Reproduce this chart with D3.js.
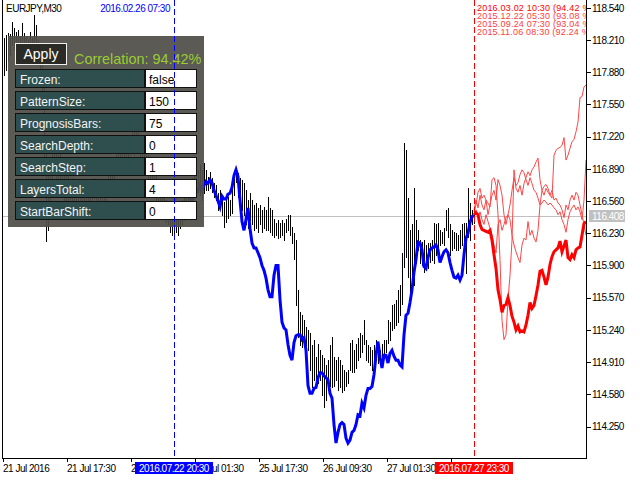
<!DOCTYPE html>
<html><head><meta charset="utf-8">
<script src="https://cdn.jsdelivr.net/npm/d3@7"></script>
<style>
html,body{margin:0;padding:0;background:#fff;}
svg{display:block;font-family:"Liberation Sans",Arial,sans-serif;}
</style></head><body>
<svg id="c" width="640" height="480"></svg>
<script>
// ---------------- DATA ----------------
const symbolLabel = "EURJPY,M30";
const patternDateLabel = "2016.02.26 07:30";
const patternStartIdx = 86;   // bar index where the matched pattern begins
const lastBarIdx = 236;       // current bar (forecast starts here)
const patternStartTime = "2016.07.22 20:30";
const lastBarTime = "2016.07.27 23:30";
const currentPrice = 116.408;

const barHigh = [
118.21,118.23,118.26,118.28,118.27,118.39,118.33,118.29,118.31,118.25,
118.38,118.28,118.25,118.21,118.29,118.23,118.47,118.36,118.21,118.11,
118.00,117.75,117.19,116.83,116.98,117.08,117.13,117.08,117.03,117.08,
116.98,116.93,116.88,116.83,116.78,116.80,116.72,116.67,116.72,116.78,
116.74,116.67,116.62,116.67,116.72,116.78,116.80,116.72,116.67,116.62,
116.67,116.72,116.78,116.83,116.88,116.93,116.98,117.03,117.08,117.13,
117.08,117.13,117.19,117.21,117.24,117.29,117.27,117.31,117.29,117.24,
117.19,117.13,117.08,117.03,116.98,116.93,116.88,116.83,116.78,116.72,
116.67,116.62,116.57,116.52,116.47,116.45,116.42,116.47,116.49,116.52,
116.57,116.62,116.67,116.72,116.78,116.80,116.83,116.86,116.88,116.93,
116.88,116.95,116.88,116.81,116.86,116.80,116.74,116.72,116.64,116.67,
116.62,116.55,116.57,116.60,116.57,116.70,116.83,116.88,116.85,116.80,
116.78,116.74,116.67,116.57,116.64,116.57,116.52,116.54,116.49,116.52,
116.47,116.50,116.47,116.60,116.49,116.47,116.38,116.34,116.37,116.33,
116.37,116.34,116.38,116.42,116.42,116.29,116.23,116.16,115.65,115.42,
115.39,115.34,115.27,115.24,115.21,115.08,115.14,114.96,115.10,115.03,
114.98,114.95,114.88,114.93,115.08,115.17,114.96,114.93,114.96,114.93,
114.88,114.83,114.81,114.83,115.11,115.14,115.03,115.10,115.16,115.21,
115.19,115.34,115.14,115.08,115.06,115.03,115.08,115.14,115.10,115.03,
115.10,115.14,115.14,115.34,115.32,115.49,115.51,115.55,115.65,115.70,
116.03,117.15,117.08,116.59,116.26,116.32,116.69,116.37,116.26,116.16,
116.14,116.16,116.11,116.13,116.13,116.16,116.33,116.32,116.33,116.26,
116.24,116.28,116.47,116.49,116.32,116.26,116.24,116.23,116.21,116.26,
116.32,116.33,116.33,116.69,116.54,116.47,116.47];

const barLow = [
117.88,117.85,117.90,118.00,118.06,118.16,118.11,118.06,118.09,118.03,
118.13,118.09,118.00,117.98,118.06,118.00,118.16,118.11,117.95,117.80,
117.59,116.98,116.15,116.26,116.57,116.72,116.83,116.78,116.67,116.80,
116.62,116.57,116.52,116.47,116.52,116.57,116.47,116.42,116.52,116.57,
116.52,116.47,116.37,116.45,116.52,116.57,116.59,116.52,116.45,116.42,
116.47,116.52,116.57,116.62,116.67,116.72,116.78,116.83,116.88,116.93,
116.88,116.95,116.98,117.00,117.03,117.08,117.03,117.08,117.06,117.00,
116.93,116.88,116.83,116.78,116.72,116.67,116.62,116.57,116.52,116.47,
116.42,116.37,116.35,116.32,116.24,116.21,116.20,116.24,116.21,116.28,
116.32,116.37,116.42,116.47,116.52,116.57,116.59,116.62,116.65,116.62,
116.57,116.64,116.67,116.67,116.69,116.65,116.60,116.57,116.47,116.49,
116.42,116.29,116.35,116.39,116.42,116.44,116.62,116.76,116.60,116.57,
116.47,116.42,116.32,116.28,116.37,116.32,116.26,116.28,116.24,116.32,
116.24,116.28,116.26,116.26,116.24,116.21,116.19,116.21,116.18,116.19,
116.21,116.16,116.24,116.26,116.21,116.13,115.97,115.49,115.17,115.08,
115.06,115.08,114.93,115.03,114.83,114.65,114.73,114.67,114.70,114.73,
114.57,114.45,114.52,114.62,114.67,114.65,114.67,114.73,114.62,114.65,
114.60,114.62,114.67,114.70,114.83,114.81,114.81,114.85,114.93,114.96,
115.01,115.10,114.93,114.91,114.88,114.83,114.88,114.93,114.90,114.88,
114.93,114.98,115.01,115.11,115.14,115.24,115.26,115.29,115.32,115.39,
115.51,115.88,115.99,115.78,115.62,115.65,115.70,115.93,116.06,115.93,
115.90,115.83,115.85,115.87,115.94,115.96,115.93,116.01,116.06,116.11,
116.13,116.11,116.26,116.19,116.01,116.06,116.08,116.06,116.06,116.08,
116.11,116.14,115.82,116.19,116.16,116.32,116.33];

// matched historical pattern, scaled onto current prices (bars 86..236)
const patternLine = [
116.57,116.59,116.62,116.67,116.72,116.69,116.65,116.62,116.59,116.57,
116.61,116.65,116.67,116.72,116.67,116.72,116.76,116.74,116.78,116.75,
116.67,116.62,116.56,116.50,116.61,116.58,116.58,116.63,116.64,116.70,
116.82,116.88,116.81,116.57,116.35,116.26,116.37,116.49,116.28,116.13,
116.08,116.08,116.03,115.98,115.90,115.85,115.77,115.65,115.58,115.58,
115.80,115.90,115.90,115.55,115.32,115.26,115.24,115.09,114.98,114.93,
115.11,115.18,115.19,115.19,115.14,115.16,115.03,114.67,114.59,114.59,
114.64,114.65,114.75,114.80,114.80,114.77,114.75,114.73,114.59,114.54,
114.27,114.08,114.19,114.27,114.29,114.27,114.13,114.08,114.11,114.19,
114.21,114.27,114.37,114.36,114.49,114.44,114.57,114.64,114.64,114.66,
114.78,114.98,115.12,114.96,114.85,114.98,114.98,114.90,115.00,115.03,
114.97,114.93,114.93,114.88,114.86,115.19,115.39,115.41,115.52,115.65,
115.83,115.96,116.14,116.13,116.06,115.89,115.87,115.98,116.06,116.08,
116.09,116.11,116.06,115.93,115.99,116.04,116.06,116.03,115.93,115.85,
115.78,115.77,115.80,115.75,115.80,116.01,116.18,116.23,116.34,116.40,
116.41];

// forecasts (bars 236..292)
const forecast1 = [
116.42,116.44,116.42,116.32,116.27,116.26,116.25,116.24,116.26,116.16,
116.01,115.87,115.65,115.55,115.42,115.49,115.50,115.57,115.49,115.38,
115.32,115.24,115.28,115.22,115.23,115.22,115.29,115.39,115.52,115.46,
115.49,115.59,115.70,115.84,115.85,115.78,115.70,115.78,115.91,115.99,
116.04,116.06,116.08,116.15,116.04,116.10,116.16,115.98,115.96,116.01,
115.98,116.06,116.08,116.09,116.21,116.33,116.35];
const forecast2 = [
116.45,116.52,116.65,116.69,116.59,116.62,116.57,116.54,116.50,116.78,
116.80,116.72,116.42,115.96,115.34,115.14,115.19,115.55,115.80,116.16,
116.88,116.69,116.65,116.72,116.62,116.74,116.80,116.86,116.82,116.88,
116.91,116.96,117.00,116.78,116.67,116.71,116.73,116.69,116.62,116.59,
117.03,117.08,117.10,117.11,117.13,117.21,116.98,117.03,117.10,117.17,
117.19,117.27,117.37,117.62,117.63,117.73,117.75];
const forecast3 = [
116.47,116.57,116.49,116.62,116.52,116.47,116.57,116.42,116.52,116.62,
116.67,116.57,116.78,116.72,116.62,116.42,116.32,116.42,116.52,116.67,
116.80,116.72,116.75,116.83,116.88,116.85,116.78,116.72,116.80,116.74,
116.67,116.65,116.59,116.52,116.54,116.57,116.55,116.52,116.54,116.52,
116.49,116.47,116.42,116.45,116.37,116.32,116.24,116.37,116.45,116.49,
116.52,116.47,116.50,116.45,116.37,116.57,116.98];
const forecast4 = [
116.42,116.47,116.39,116.45,116.37,116.32,116.42,116.35,116.28,116.21,
116.11,116.03,116.32,116.37,116.26,116.32,116.39,116.42,116.37,116.21,
116.11,116.04,115.98,115.93,116.11,116.18,116.16,116.35,116.21,116.26,
116.18,116.14,116.26,116.52,116.67,116.62,116.69,116.65,116.62,116.67,
116.57,116.59,116.54,116.52,116.47,116.39,116.52,116.47,116.57,116.62,
116.57,116.65,116.62,116.52,116.42,116.32,116.21];

const forecastLabels = [
"2016.03.02 10:30 (94.42 %)",
"2015.12.22 05:30 (93.08 %)",
"2015.09.24 07:30 (93.04 %)",
"2015.11.06 08:30 (92.24 %)"];

const priceTicks = [118.54,118.21,117.88,117.55,117.22,116.89,116.56,116.23,115.90,115.57,115.24,114.91,114.58,114.25];
const timeTickIdx = [0,32,64,96,128,160,192,224];
const timeTickLabels = ["21 Jul 2016","21 Jul 17:30","22 Jul 09:30","25 Jul 01:30","25 Jul 17:30","26 Jul 09:30","27 Jul 01:30","27 Jul 17:30"];

const paramNames = ["Frozen:","PatternSize:","PrognosisBars:","SearchDepth:","SearchStep:","LayersTotal:","StartBarShift:"];
const paramValues = ["false","150","75","0","1","4","0"];
const buttonLabel = "Apply";
const correlationLabel = "Correlation: 94.42%";

// ---------------- CHART ----------------
const svg = d3.select("#c");
const x = d3.scaleLinear().domain([0, 292]).range([2, 586]);
const y = d3.scaleLinear().domain([118.62, 114.25]).range([0, 426.5]);
const px = v => Math.round(v) + 0.5;

svg.append("rect").attr("width",640).attr("height",480).attr("fill","#fff");

svg.append("defs").append("clipPath").attr("id","plot")
  .append("rect").attr("x",3).attr("y",0).attr("width",583).attr("height",458);

const plot = svg.append("g").attr("clip-path","url(#plot)");

// current price line
plot.append("line").attr("x1",2).attr("x2",586)
  .attr("y1",px(y(currentPrice))).attr("y2",px(y(currentPrice)))
  .attr("stroke","#c0c0c0").attr("stroke-width",1);

// bars
plot.append("g").attr("shape-rendering","crispEdges")
  .selectAll("line").data(barHigh).join("line")
  .attr("x1",(d,i)=>px(x(i))).attr("x2",(d,i)=>px(x(i)))
  .attr("y1",d=>Math.round(y(d))).attr("y2",(d,i)=>Math.round(y(barLow[i]))+1)
  .attr("stroke","#000").attr("stroke-width",1);

// pattern (blue)
plot.append("path").datum(patternLine)
  .attr("d", d3.line().x((d,i)=>x(i+patternStartIdx)).y(d=>y(d)))
  .attr("fill","none").attr("stroke","#0000ff").attr("stroke-width",3)
  .attr("stroke-linejoin","miter");

// forecasts
const fLine = d3.line().x((d,i)=>x(i+lastBarIdx)).y(d=>y(d));
[forecast2, forecast3, forecast4].forEach(f=>{
  plot.append("path").datum(f).attr("d",fLine)
    .attr("fill","none").attr("stroke","#ff4646").attr("stroke-width",1);
});
plot.append("path").datum(forecast1).attr("d",fLine)
  .attr("fill","none").attr("stroke","#ff0000").attr("stroke-width",3);

// legend (top-right, clipped)
plot.append("g").selectAll("text").data(forecastLabels).join("text")
  .attr("x", x(lastBarIdx)+3).attr("y",(d,i)=>10.5+i*8.2)
  .attr("font-size",9).attr("fill",(d,i)=>i===0?"#ff0000":"#ff3c3c")
  .style("letter-spacing","0.2px")
  .text(d=>d);

// control panel
const panel = svg.append("g");
panel.append("rect").attr("x",8).attr("y",36).attr("width",196).attr("height",191)
  .attr("fill","#4f4e48").attr("opacity",0.93);
panel.append("rect").attr("x",15.5).attr("y",43.5).attr("width",51).attr("height",21)
  .attr("fill","#2a2a26").attr("stroke","#f0f0f0");
panel.append("text").attr("x",41).attr("y",59).attr("text-anchor","middle")
  .attr("font-size",14).attr("fill","#fff").text(buttonLabel);
panel.append("text").attr("x",74).attr("y",63.5)
  .attr("font-size",14.4).attr("fill","#9acd32").text(correlationLabel);
const rows = panel.selectAll("g.row").data(paramNames).join("g")
  .attr("transform",(d,i)=>`translate(0,${69.5+22*i})`);
rows.append("rect").attr("x",15.5).attr("y",0).attr("width",129).attr("height",18)
  .attr("fill","#2f4f4f").attr("stroke","#111");
rows.append("rect").attr("x",145.5).attr("y",0).attr("width",51).attr("height",18)
  .attr("fill","#fff").attr("stroke","#111");
rows.append("text").attr("x",20).attr("y",14).attr("font-size",12).attr("fill","#f4f4f4").text(d=>d);
rows.append("text").attr("x",149).attr("y",14).attr("font-size",12).attr("fill","#000")
  .text((d,i)=>paramValues[i]);

// vertical dashed lines (above panel)
svg.append("line").attr("x1",px(x(patternStartIdx))).attr("x2",px(x(patternStartIdx)))
  .attr("y1",0).attr("y2",458).attr("stroke","#0000ff").attr("stroke-dasharray","6,3");
svg.append("line").attr("x1",px(x(lastBarIdx))).attr("x2",px(x(lastBarIdx)))
  .attr("y1",0).attr("y2",458).attr("stroke","#ff0000").attr("stroke-dasharray","6,3");

// top labels
svg.append("text").attr("x",6).attr("y",12).attr("font-size",10).style("letter-spacing","-0.5px")
  .attr("fill","#000").text(symbolLabel);
svg.append("text").attr("x",x(patternStartIdx)-4).attr("y",12).attr("text-anchor","end")
  .attr("font-size",10).style("letter-spacing","-0.5px").attr("fill","#0000ff").text(patternDateLabel);

// borders
const frame = svg.append("g").attr("stroke","#000").attr("shape-rendering","crispEdges");
frame.append("line").attr("x1",2.5).attr("x2",2.5).attr("y1",0).attr("y2",459);
frame.append("line").attr("x1",586.5).attr("x2",586.5).attr("y1",0).attr("y2",459);
frame.append("line").attr("x1",2).attr("x2",587).attr("y1",458.5).attr("y2",458.5);

// y axis
const yAxis = svg.append("g").attr("transform","translate(587,0)")
  .call(d3.axisRight(y).tickValues(priceTicks).tickSize(4).tickPadding(1).tickFormat(d3.format(".3f")));
yAxis.select(".domain").remove();
yAxis.selectAll("text").attr("font-size",10).attr("font-family","Liberation Sans, Arial, sans-serif")
  .style("letter-spacing","-0.5px").attr("fill","#000");
yAxis.selectAll("line").attr("stroke","#000").attr("shape-rendering","crispEdges");

// current price marker
const cp = y(currentPrice);
svg.append("rect").attr("x",589).attr("y",Math.round(cp)-6).attr("width",36).attr("height",12).attr("fill","#c0c0c0");
svg.append("text").attr("x",592).attr("y",Math.round(cp)+4).attr("font-size",10)
  .style("letter-spacing","-0.5px").attr("fill","#fff").text(d3.format(".3f")(currentPrice));

// x axis
const xAxis = svg.append("g").attr("transform","translate(0.5,458)")
  .call(d3.axisBottom(x).tickValues(timeTickIdx).tickSize(4).tickPadding(3)
    .tickFormat((d,i)=>timeTickLabels[i]));
xAxis.select(".domain").remove();
xAxis.selectAll("text").attr("text-anchor","start").attr("x",0).attr("font-size",10)
  .attr("font-family","Liberation Sans, Arial, sans-serif").style("letter-spacing","-0.5px").attr("fill","#000");
xAxis.selectAll("line").attr("stroke","#000").attr("shape-rendering","crispEdges");

// time highlight boxes
[[patternStartIdx, patternStartTime, "#0000ff"],[lastBarIdx, lastBarTime, "#ff0000"]].forEach(([idx,t,c])=>{
  const cx = x(idx);
  svg.append("rect").attr("x",Math.round(cx)-39).attr("y",462).attr("width",78).attr("height",12).attr("fill",c);
  svg.append("text").attr("x",cx).attr("y",471.5).attr("text-anchor","middle").attr("font-size",10)
    .style("letter-spacing","-0.5px").attr("fill","#fff").text(t);
});
</script>
</body></html>
